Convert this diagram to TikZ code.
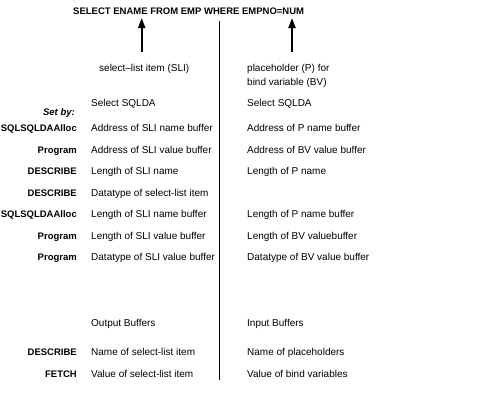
\documentclass[tikz,border=0pt]{standalone}
\usepackage{fontspec}
\setmainfont{Liberation Sans}
\usetikzlibrary{arrows.meta}
\begin{document}
\begin{tikzpicture}[x=1pt,y=-1pt]
  \tikzstyle{txt}=[inner sep=0pt, text height=7.2pt, text depth=0pt, font=\fontsize{10}{12}\selectfont]
  \tikzstyle{item}=[txt, anchor=west]
  \tikzstyle{who}=[txt, anchor=east, font=\fontsize{9.5}{12}\selectfont\bfseries]
  \tikzstyle{ptr}=[line width=2pt, -{Triangle[width=7pt,length=10pt]}]
  \useasboundingbox (0,0) rectangle (504,400);

  % statement
  \node[item, font=\fontsize{9.5}{12}\selectfont\bfseries] (stmt) at (73,11) {SELECT ENAME FROM EMP WHERE EMPNO=NUM};

  \coordinate (sliBot) at (141.7,52);
  \coordinate (sliTop) at (141.7,18);
  \coordinate (bvBot)  at (292,52);
  \coordinate (bvTop)  at (292,18);
  \coordinate (divTop) at (219,21);
  \coordinate (divBot) at (219,380);

  \node[item] (sli) at (99,68)  {select--list item (SLI)};
  \node[item] (ph1) at (247,68) {placeholder (P) for};
  \node[item] (ph2) at (247,82) {bind variable (BV)};

  % headings
  \node[who, font=\fontsize{9.5}{12}\selectfont\bfseries\itshape] (setby) at (75,112) {Set by:};
  \node[item] (outsq) at (91,103)  {Select SQLDA};
  \node[item] (insq)  at (247,103) {Select SQLDA};

  % rows
  \node[who]  (w1) at (77,128)   {SQLSQLDAAlloc};
  \node[item] (o1) at (91,128)   {Address of SLI name buffer};
  \node[item] (i1) at (247,128)  {Address of P name buffer};
  \node[who]  (w2) at (77,149.5) {Program};
  \node[item] (o2) at (91,149.5) {Address of SLI value buffer};
  \node[item] (i2) at (247,149.5){Address of BV value buffer};
  \node[who]  (w3) at (77,171)   {DESCRIBE};
  \node[item] (o3) at (91,171)   {Length of SLI name};
  \node[item] (i3) at (247,171)  {Length of P name};
  \node[who]  (w4) at (77,192.5) {DESCRIBE};
  \node[item] (o4) at (91,192.5) {Datatype of select-list item};
  \node[who]  (w5) at (77,214)   {SQLSQLDAAlloc};
  \node[item] (o5) at (91,214)   {Length of SLI name buffer};
  \node[item] (i5) at (247,214)  {Length of P name buffer};
  \node[who]  (w6) at (77,235.5) {Program};
  \node[item] (o6) at (91,235.5) {Length of SLI value buffer};
  \node[item] (i6) at (247,235.5){Length of BV valuebuffer};
  \node[who]  (w7) at (77,257)   {Program};
  \node[item] (o7) at (91,257)   {Datatype of SLI value buffer};
  \node[item] (i7) at (247,257)  {Datatype of BV value buffer};

  % buffers
  \node[item] (outbuf) at (91,323)  {Output Buffers};
  \node[item] (inbuf)  at (247,323) {Input Buffers};
  \node[who]  (w8) at (77,352)  {DESCRIBE};
  \node[item] (o8) at (91,352)  {Name of select-list item};
  \node[item] (i8) at (247,352) {Name of placeholders};
  \node[who]  (w9) at (77,374)  {FETCH};
  \node[item] (o9) at (91,374)  {Value of select-list item};
  \node[item] (i9) at (247,374) {Value of bind variables};

  \draw[ptr] (sliBot) -- (sliTop);
  \draw[ptr] (bvBot) -- (bvTop);
  \draw[line width=1pt] (divTop) -- (divBot);
\end{tikzpicture}
\end{document}
